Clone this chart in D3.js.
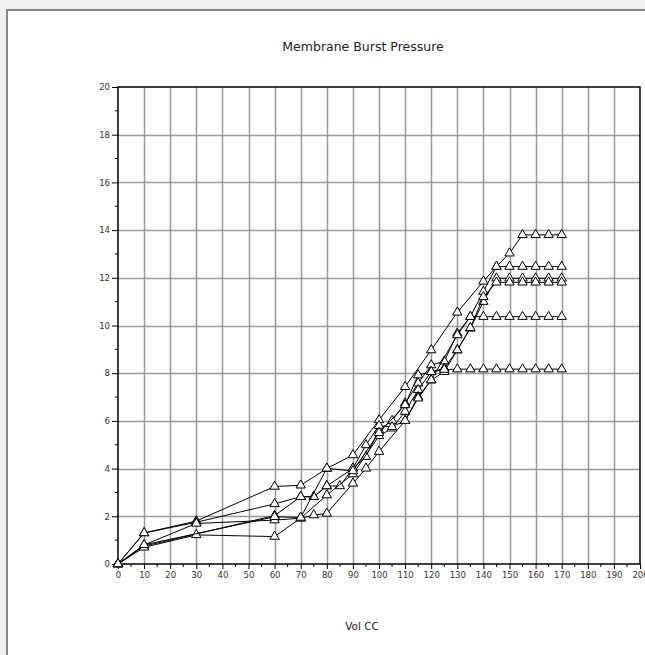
<!DOCTYPE html>
<html><head><meta charset="utf-8">
<script src="https://cdn.jsdelivr.net/npm/d3@7"></script>
<style>html,body{margin:0;padding:0;background:#f0f0f0;overflow:hidden}</style>
</head><body>
<script>
const title = "Membrane Burst Pressure";
const xTitle = "Vol CC";
const xTicks = d3.range(0, 201, 10);
const yTicks = d3.range(0, 21, 2);

const s1x = [0,10,30,60,70,80,90,100,110,120,130,140,145,150,155,160,165,170];
const s1y = [0,1.3,1.8,3.25,3.3,4.0,4.57,6.04,7.43,8.97,10.55,11.85,12.47,13.03,13.8,13.8,13.8,13.8];
const s2x = [0,10,30,60,70,75,80,85,90,95,100,105,110,115,120,125,130,135,140,145,150,155,160,165,170];
const s2y = [0,1.3,1.75,2.52,2.82,2.82,3.27,3.27,4.01,4.5,5.62,6.01,6.74,7.58,8.34,8.5,9.67,10.37,11.42,12.47,12.47,12.47,12.47,12.47,12.47];
const s3x = [0,10,30,60,70,80,90,100,105,110,115,120,125,130,135,140,145,150,155,160,165,170];
const s3y = [0,0.8,1.7,1.84,1.92,2.89,3.77,5.37,5.69,6.39,7.3,8.06,8.2,8.97,9.88,11.0,11.98,11.98,11.98,11.98,11.98,11.98];
const s4x = [0,10,60,70,75,80,90,95,100,105,110,115,120,125,130,135,140,145,150,155,160,165,170];
const s4y = [0,0.75,2.03,2.82,2.82,3.27,4.01,4.99,5.8,5.75,6.01,7.01,7.71,8.06,8.97,9.9,11.2,11.81,11.81,11.81,11.81,11.81,11.81];
const s5x = [0,10,30,60,70,75,80,90,95,100,110,115,120,130,135,140,145,150,155,160,165,170];
const s5y = [0,0.7,1.22,1.15,1.92,2.05,2.12,3.38,4.01,4.71,6.01,6.95,7.71,9.6,10.37,10.37,10.37,10.37,10.37,10.37,10.37,10.37];
const s6x = [0,10,60,70,80,90,100,110,115,120,125,130,135,140,145,150,155,160,165,170];
const s6y = [0,0.8,1.98,1.95,4.01,3.9,5.5,6.67,7.92,8.06,8.15,8.17,8.17,8.17,8.17,8.17,8.17,8.17,8.17,8.17];

const seriesX = [s1x,s2x,s3x,s4x,s5x,s6x];
const seriesY = [s1y,s2y,s3y,s4y,s5y,s6y];

const W = 645, H = 655;
const svg = d3.select("body").append("svg").attr("width", W).attr("height", H)
  .style("display","block");

// panel
svg.append("rect").attr("x",0).attr("y",0).attr("width",W).attr("height",H).attr("fill","#f0f0f0");
svg.append("rect").attr("x",7).attr("y",10).attr("width",W+20).attr("height",H+20)
  .attr("fill","#ffffff").attr("stroke","#888888").attr("stroke-width",2);

const x = d3.scaleLinear().domain([0,200]).range([118,640]);
const y = d3.scaleLinear().domain([0,20]).range([564,87]);

const g = svg.append("g");

// grid
g.append("g").selectAll("line").data(xTicks.slice(1,-1)).join("line")
  .attr("x1",d=>Math.round(x(d))+0.5).attr("x2",d=>Math.round(x(d))+0.5)
  .attr("y1",y(20)).attr("y2",y(0)).attr("stroke","#999999").attr("stroke-width",1.5);
g.append("g").selectAll("line").data(yTicks.slice(1,-1)).join("line")
  .attr("y1",d=>Math.round(y(d))+0.5).attr("y2",d=>Math.round(y(d))+0.5)
  .attr("x1",x(0)).attr("x2",x(200)).attr("stroke","#999999").attr("stroke-width",1.5);

// frame
g.append("rect").attr("x",x(0)).attr("y",y(20)).attr("width",x(200)-x(0)).attr("height",y(0)-y(20))
  .attr("fill","none").attr("stroke","#000").attr("stroke-width",1.5);

// axes
const xAxis = d3.axisBottom(x).tickValues(xTicks).tickSize(5).tickPadding(3).tickFormat(d3.format("d"));
const xa = g.append("g").attr("transform",`translate(0,${y(0)})`).call(xAxis);
const yAxis = d3.axisLeft(y).tickValues(yTicks).tickSize(6).tickPadding(2).tickFormat(d3.format("d"));
const ya = g.append("g").attr("transform",`translate(${x(0)},0)`).call(yAxis);
[xa,ya].forEach(a=>{
  a.select(".domain").remove();
  a.selectAll("line").attr("stroke","#000");
  a.selectAll("text").attr("fill","#333").style("font-family","'DejaVu Sans', Verdana, sans-serif").style("font-size","8.5px");
});
// minor ticks
g.append("g").selectAll("line").data(d3.range(5,200,10)).join("line")
  .attr("x1",d=>x(d)).attr("x2",d=>x(d)).attr("y1",y(0)).attr("y2",y(0)+3).attr("stroke","#000");
g.append("g").selectAll("line").data(d3.range(1,20,2)).join("line")
  .attr("y1",d=>y(d)).attr("y2",d=>y(d)).attr("x1",x(0)).attr("x2",x(0)-3).attr("stroke","#000");

// series
const line = d3.line().x(d=>x(d[0])).y(d=>y(d[1]));
const tri = d3.symbol().type(d3.symbolTriangle).size(38);
seriesX.forEach((xs,i)=>{
  const pts = xs.map((v,j)=>[v, seriesY[i][j]]);
  g.append("path").datum(pts).attr("d",line).attr("fill","none").attr("stroke","#000").attr("stroke-width",1);
  g.append("g").selectAll("path").data(pts).join("path")
    .attr("d",tri).attr("transform",d=>`translate(${x(d[0])},${y(d[1])})`)
    .attr("fill","#fff").attr("stroke","#000").attr("stroke-width",1);
});

// titles
svg.append("text").attr("x",363).attr("y",51).attr("text-anchor","middle")
  .style("font-family","'DejaVu Sans', Verdana, sans-serif").style("font-size","12.5px").attr("fill","#222").text(title);
svg.append("text").attr("x",362).attr("y",630).attr("text-anchor","middle")
  .style("font-family","'DejaVu Sans', Verdana, sans-serif").style("font-size","10.5px").attr("fill","#222").text(xTitle);
</script>
</body></html>
